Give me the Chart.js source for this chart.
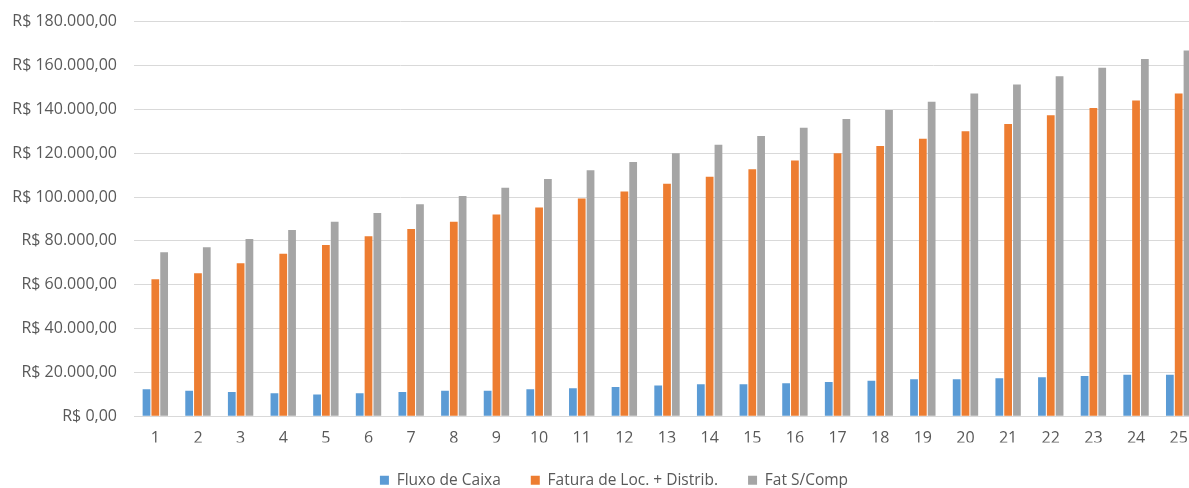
<!DOCTYPE html>
<html lang="pt-BR">
<head>
<meta charset="utf-8">
<title>Fluxo de Caixa x Faturamento</title>
<script src="https://cdn.jsdelivr.net/npm/chart.js@4/dist/chart.umd.min.js"></script>
<style>
  html, body { margin: 0; padding: 0; background: #ffffff; overflow: hidden; }
  #wrap { position: relative; width: 1189px; height: 488px; overflow: hidden; }
</style>
</head>
<body>
<div id="wrap"><canvas id="chart" width="1228" height="498"></canvas></div>
<script>
// Periods (years) on the x axis
const periods = ['1','2','3','4','5','6','7','8','9','10','11','12','13','14','15','16','17','18','19','20','21','22','23','24','25'];

// Series values in R$
const fluxoCaixa = [12300, 11700, 11100, 10500, 10000, 10500, 11100, 11700, 11700, 12300, 12800, 13400, 14000, 14600, 14600, 15100, 15700, 16200, 16900, 16900, 17300, 17800, 18400, 19000, 19000];
const faturaLocDistrib = [62500, 65200, 69800, 74200, 78100, 82100, 85400, 88800, 92000, 95300, 99300, 102600, 106100, 109300, 112700, 116700, 120000, 123300, 126600, 130000, 133300, 137300, 140600, 144100, 147300];
const fatSemComp = [74800, 77100, 80900, 85000, 88800, 92700, 96700, 100500, 104300, 108200, 112200, 116000, 120000, 123900, 127900, 131600, 135600, 139700, 143500, 147300, 151300, 155100, 159000, 163000, 166900];

// Series names shown in the legend
const seriesNames = ['Fluxo de Caixa', 'Fatura de Loc. + Distrib.', 'Fat S/Comp'];

// Value axis range and step
const yMin = 0;
const yMax = 180000;
const yStep = 20000;

function formatBRL(v) {
  const parts = Math.round(v).toString().replace(/\B(?=(\d{3})+(?!\d))/g, '.');
  return 'R$ ' + parts + ',00';
}

const FONT = '"Open Sans", "Liberation Sans", sans-serif';
const TEXT = '#595959';

new Chart(document.getElementById('chart'), {
  type: 'bar',
  data: {
    labels: periods,
    datasets: [
      { label: seriesNames[0], data: fluxoCaixa, backgroundColor: '#5B9BD5' },
      { label: seriesNames[1], data: faturaLocDistrib, backgroundColor: '#ED7D31' },
      { label: seriesNames[2], data: fatSemComp, backgroundColor: '#A5A5A5' }
    ]
  },
  options: {
    responsive: false,
    animation: false,
    devicePixelRatio: 1,
    datasets: {
      bar: { categoryPercentage: 0.62, barPercentage: 0.88, borderWidth: 0 }
    },
    layout: { padding: { top: 0, left: 0, right: 0, bottom: 0 } },
    plugins: {
      tooltip: { enabled: false },
      legend: {
        position: 'bottom',
        labels: {
          color: TEXT,
          font: { family: FONT, size: 15.5 },
          boxWidth: 9,
          boxHeight: 9,
          padding: 30
        }
      }
    },
    scales: {
      x: {
        grid: { display: false, drawTicks: false },
        border: { display: true, color: '#D9D9D9', width: 1 },
        ticks: {
          color: TEXT,
          font: { family: FONT, size: 16 },
          padding: 13,
          maxRotation: 0,
          autoSkip: false
        },
        afterFit: (scale) => { scale.height = 26.2; }
      },
      y: {
        min: yMin,
        max: yMax,
        grid: { color: '#D9D9D9', lineWidth: 1, drawTicks: false },
        border: { display: false },
        ticks: {
          stepSize: yStep,
          color: TEXT,
          font: { family: FONT, size: 16, lineHeight: '9.4px' },
          padding: 17,
          callback: (v) => formatBRL(v)
        },
        afterFit: (scale) => { scale.width = 134; }
      },
      // empty right-hand margin column so the plot ends at the frame edge
      margin: {
        position: 'right',
        grid: { display: false, drawTicks: false },
        border: { display: false },
        ticks: { display: false },
        afterFit: (scale) => { scale.width = 28; }
      }
    }
  }
});
</script>
</body>
</html>
